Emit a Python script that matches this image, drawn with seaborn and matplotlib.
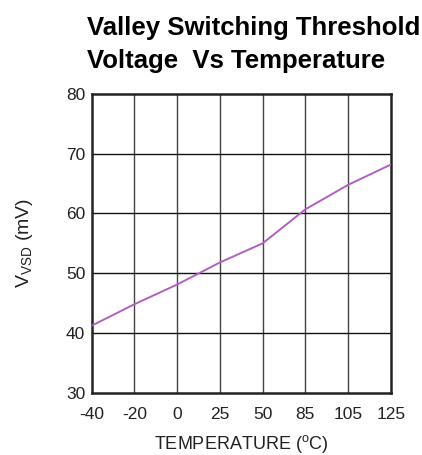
import matplotlib
matplotlib.use("Agg")
import matplotlib.pyplot as plt
import seaborn as sns
import pandas as pd

temps = ["-40", "-20", "0", "25", "50", "85", "105", "125"]
vsd = [41.2, 44.8, 48.1, 51.8, 55.0, 60.7, 64.8, 68.2]
yticks = [30, 40, 50, 60, 70, 80]

sns.set_style("white")
plt.rcParams['font.family'] = ['Liberation Sans', 'DejaVu Sans']
plt.rcParams['mathtext.fontset'] = 'custom'
plt.rcParams['mathtext.rm'] = 'Liberation Sans'

df = pd.DataFrame({"pos": list(range(len(temps))), "vsd": vsd})

W, H = 422, 455
fig = plt.figure(figsize=(W / 100, H / 100), dpi=100)
ax = fig.add_axes([91.5 / W, 1 - 392.7 / H, (391 - 91.5) / W, (392.7 - 94) / H])
sns.lineplot(data=df, x="pos", y="vsd", ax=ax, color="#b060c0", linewidth=1.4, zorder=3)

ax.set_xlim(0, len(temps) - 1)
ax.set_ylim(30, 80)
ax.set_xticks(range(len(temps)))
ax.set_xticklabels(temps)
ax.set_yticks(yticks)
ax.set_yticklabels([str(v) for v in yticks])
ax.tick_params(axis='both', labelsize=12.5, colors='#222222', length=0)
ax.tick_params(axis='x', pad=10.5)
ax.tick_params(axis='y', pad=4.5)

for i in range(1, len(temps) - 1):
    ax.axvline(i, color='#444444', linewidth=1.0, zorder=1)
for v in yticks[1:-1]:
    ax.axhline(v, color='#111111', linewidth=1.0, zorder=1)
for s in ax.spines.values():
    s.set_visible(True)
    s.set_color('#222222')
    s.set_linewidth(1.8)

ax.set_xlabel("TEMPERATURE ($^{\\mathrm{o}}$C)", fontsize=13, color='#222222', labelpad=8)
ax.set_ylabel("V$_{\\mathrm{VSD}}$ (mV)", fontsize=14, color='#222222', labelpad=22)

fig.text(87 / W, 1 - 35 / H, "Valley Switching Threshold", fontsize=18.5, fontweight='bold',
         ha='left', va='baseline', color='black')
fig.text(87 / W, 1 - 68 / H, "Voltage  Vs Temperature", fontsize=18.5, fontweight='bold',
         ha='left', va='baseline', color='black')

fig.savefig("out.png", dpi=100)
